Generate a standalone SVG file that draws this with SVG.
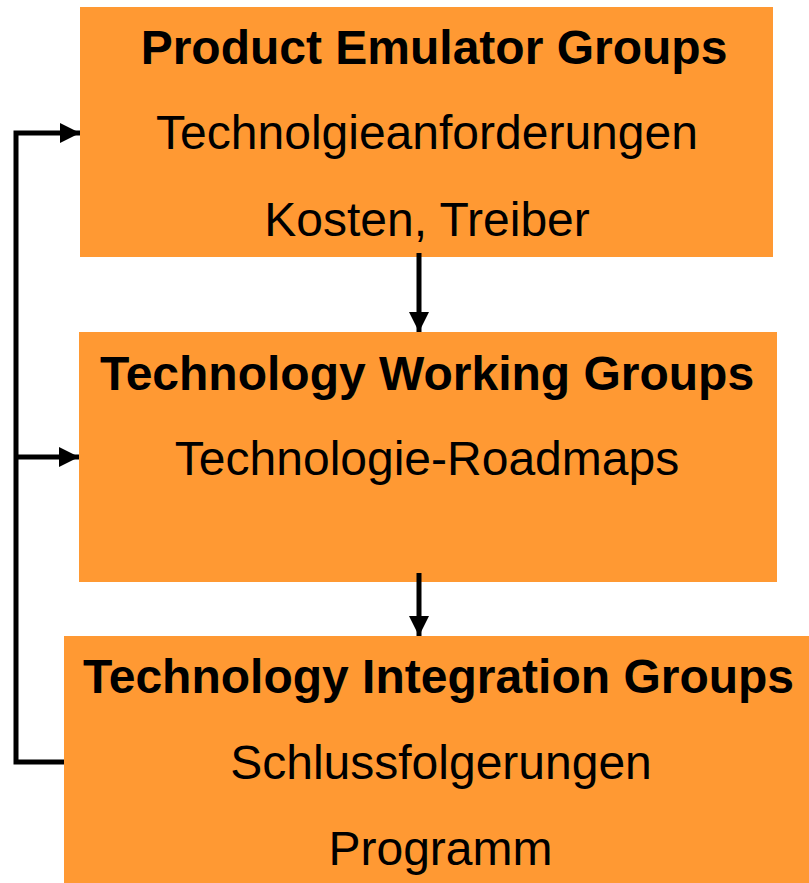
<svg xmlns="http://www.w3.org/2000/svg" width="809" height="883" viewBox="0 0 809 883">
<defs>
<style>
.box{fill:#FF9933;}
.t{font-family:"Liberation Sans",Arial,sans-serif;font-size:48px;fill:#000;text-anchor:middle;}
.b{font-weight:bold;}
.ln{stroke:#000;stroke-width:5;fill:none;}
</style>
<marker id="ah" markerUnits="userSpaceOnUse" markerWidth="20" markerHeight="20" viewBox="0 0 18 18" refX="18" refY="9" orient="auto">
<path d="M0,0 L18,9 L0,18 Z" fill="#000"/>
</marker>
</defs>
<rect width="809" height="883" fill="#fff"/>
<g id="node-peg">
<rect class="box" x="80" y="7" width="693" height="250"/>
<text class="t b" x="434" y="64">Product Emulator Groups</text>
<text class="t" x="427" y="149">Technolgieanforderungen</text>
<text class="t" x="427" y="236">Kosten, Treiber</text>
</g>
<g id="node-twg">
<rect class="box" x="79" y="332" width="698" height="250"/>
<text class="t b" x="427" y="390">Technology Working Groups</text>
<text class="t" x="427" y="475">Technologie-Roadmaps</text>
</g>
<g id="node-tig">
<rect class="box" x="64" y="636" width="745" height="247"/>
<text class="t b" x="438.5" y="693">Technology Integration Groups</text>
<text class="t" x="441" y="779">Schlussfolgerungen</text>
<text class="t" x="440.5" y="865">Programm</text>
</g>
<g id="connectors">
<line class="ln" x1="419" y1="253" x2="419" y2="332" marker-end="url(#ah)"/>
<line class="ln" x1="419" y1="573" x2="419" y2="636" marker-end="url(#ah)"/>
<polyline class="ln" points="64,762 16,762 16,133 80,133" marker-end="url(#ah)"/>
<line class="ln" x1="16" y1="457" x2="79" y2="457" marker-end="url(#ah)"/>
</g>
</svg>
